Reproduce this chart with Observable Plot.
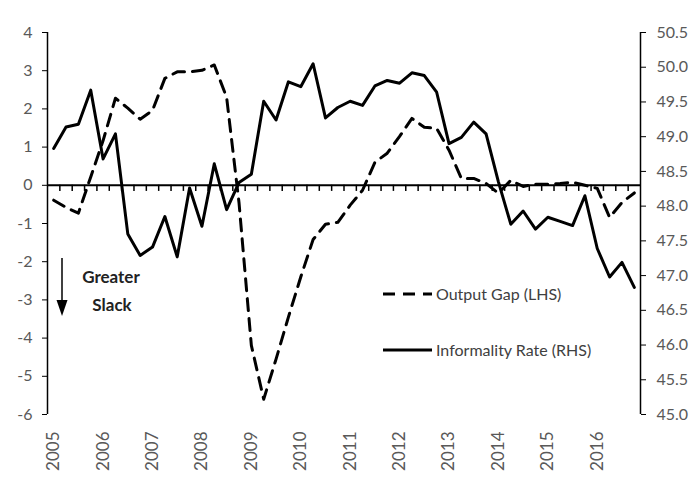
<!DOCTYPE html>
<html>
<head>
<meta charset="utf-8">
<script src="https://cdn.jsdelivr.net/npm/d3@7"></script>
<script src="https://cdn.jsdelivr.net/npm/@observablehq/plot@0.6"></script>
<style>
  body { margin: 0; background: #fff; }
  #wrap { position: relative; width: 700px; height: 495px; font-family: Lato, "Open Sans", sans-serif; }
  #wrap svg.overlay { position: absolute; left: 0; top: 0; pointer-events: none; }
  #wrap [aria-label="y-axis tick"], #wrap [aria-label="x-axis tick"] { stroke: #000; }
  #wrap [aria-label="y-axis tick label"], #wrap [aria-label="x-axis tick label"] { fill: #595959; }
</style>
</head>
<body>
<div id="wrap"></div>
<script>
// ---- data (quarterly, 2005Q1 .. 2016Q4) ----
const years = [2005, 2006, 2007, 2008, 2009, 2010, 2011, 2012, 2013, 2014, 2015, 2016];
const outputGap = [
  -0.39, -0.58, -0.73, 0.22,
   1.17,  2.28,  2.02, 1.73,
   1.96,  2.80,  2.97, 2.97,
   3.01,  3.15,  2.30, -0.45,
  -4.19, -5.60, -4.55, -3.45,
  -2.40, -1.42, -1.02, -0.97,
  -0.52, -0.13,  0.60,  0.84,
   1.28,  1.75,  1.52,  1.49,
   0.92,  0.18,  0.18,  0.05,
  -0.21,  0.13, -0.03,  0.03,
   0.03,  0.05,  0.08,  0.00,
  -0.08, -0.84, -0.45, -0.20
];
const informality = [
  48.83, 49.14, 49.18, 49.67,
  48.68, 49.04, 47.60, 47.29,
  47.41, 47.85, 47.27, 48.26,
  47.71, 48.61, 47.95, 48.34,
  48.46, 49.51, 49.24, 49.79,
  49.72, 50.05, 49.27, 49.42,
  49.51, 49.45, 49.73, 49.81,
  49.77, 49.92, 49.88, 49.64,
  48.90, 48.99, 49.21, 49.04,
  48.35, 47.74, 47.93, 47.67,
  47.84, 47.78, 47.72, 48.15,
  47.39, 46.98, 47.19, 46.83
];
const leftTicks = [-6, -5, -4, -3, -2, -1, 0, 1, 2, 3, 4];
const rightTicks = [45.0, 45.5, 46.0, 46.5, 47.0, 47.5, 48.0, 48.5, 49.0, 49.5, 50.0, 50.5];
const seriesNames = ["Output Gap (LHS)", "Informality Rate (RHS)"];
const annotation = ["Greater", "Slack"];

// ---- scales ----
const lMin = -6, lMax = 4, rMin = 45, rMax = 50.5;
const toLeft = r => lMin + (r - rMin) / (rMax - rMin) * (lMax - lMin);
const toRight = l => rMin + (l - lMin) / (lMax - lMin) * (rMax - rMin);
const n = outputGap.length;
const data = outputGap.map((g, i) => ({ i, gap: g, inf: informality[i] }));
const bounds = d3.range(1, n).map(k => k - 0.5);
const yearIdx = years.map((y, k) => k * 4);

const chart = Plot.plot({
  width: 700, height: 495,
  marginLeft: 47, marginRight: 60, marginTop: 32, marginBottom: 81,
  style: { fontFamily: "Lato, 'Open Sans', sans-serif", background: "white", overflow: "visible" },
  x: { domain: [-0.5, n - 0.5] },
  y: { domain: [lMin, lMax] },
  marks: [
    Plot.ruleX([-0.5, n - 0.5], { y1: lMin, y2: lMax, stroke: "#000", strokeWidth: 1.5 }),
    Plot.axisY(leftTicks, { anchor: "left", tickSize: 5, tickPadding: 10, fontSize: 16, label: null, tickFormat: d => String(d) }),
    Plot.axisY(rightTicks.map(toLeft), { anchor: "right", tickSize: 5, tickPadding: 11, fontSize: 16, label: null, tickFormat: d => toRight(d).toFixed(1) }),
    Plot.axisX(yearIdx, { anchor: "bottom", tickSize: 0, tickPadding: 17, tickRotate: -90, fontSize: 17, label: null, tickFormat: i => String(years[i / 4]) }),
    Plot.ruleY([0], { x1: -0.5, x2: n - 0.5, stroke: "#000", strokeWidth: 2 }),
    Plot.ruleX(bounds, { y1: 0, y2: -0.16, stroke: "#000", strokeWidth: 1.5 }),
    Plot.line(data, { x: "i", y: "gap", stroke: "#000", strokeWidth: 3, strokeDasharray: "12,8" }),
    Plot.line(data, { x: "i", y: d => toLeft(d.inf), stroke: "#000", strokeWidth: 3 })
  ]
});

const wrap = document.getElementById("wrap");
wrap.appendChild(chart);

// ---- legend + annotation overlay ----
const ov = d3.select(wrap).append("svg").attr("class", "overlay").attr("width", 700).attr("height", 495);
const leg = ov.append("g").attr("font-size", 16).attr("fill", "#404040");
const legY = [294, 350];
seriesNames.forEach((name, k) => {
  leg.append("line").attr("x1", 383).attr("x2", 432).attr("y1", legY[k]).attr("y2", legY[k])
    .attr("stroke", "#000").attr("stroke-width", 3)
    .attr("stroke-dasharray", k === 0 ? "12,8" : null);
  leg.append("text").attr("x", 436).attr("y", legY[k]).attr("dy", "0.35em").text(name);
});
const ann = ov.append("g").attr("font-size", 17).attr("font-weight", "bold").attr("fill", "#222").attr("text-anchor", "middle");
ann.append("text").attr("x", 111).attr("y", 277).attr("dy", "0.35em").text(annotation[0]);
ann.append("text").attr("x", 112).attr("y", 305).attr("dy", "0.35em").text(annotation[1]);
ov.append("line").attr("x1", 62).attr("x2", 62).attr("y1", 258).attr("y2", 303).attr("stroke", "#000").attr("stroke-width", 1.5);
ov.append("path").attr("d", "M56.5,300 L67.5,300 L62,316 Z").attr("fill", "#000");
</script>
</body>
</html>
